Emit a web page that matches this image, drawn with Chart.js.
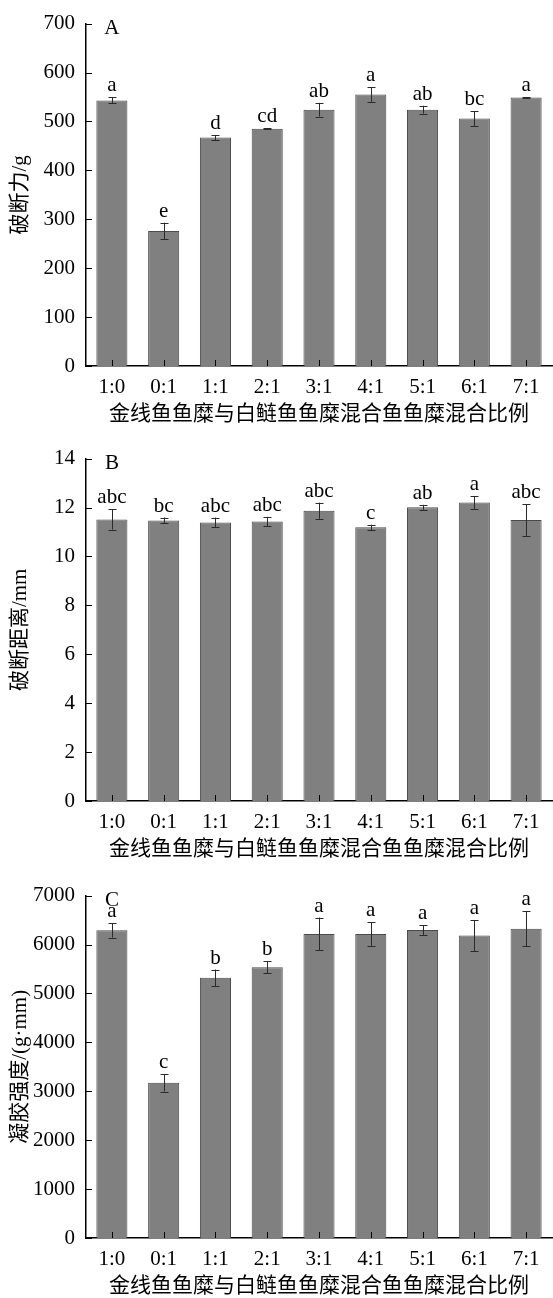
<!DOCTYPE HTML><html>
<head>
  <meta charset="utf-8">
  <title>鱼糜混合比例</title>
  <style>
  html, body {
    margin: 0;
    padding: 0;
    background: #fff;
    overflow: hidden;
  }
  body {
    width: 553px;
    height: 1298px;
    position: relative;
  }
  .panel {
    position: absolute;
    left: 0;
    width: 553px;
    height: 436px;
  }
  </style>
  <script src="https://cdn.jsdelivr.net/npm/chart.js"></script>
</head>
<body>
  <div class="panel" style="top:0px"><canvas id="chart-a" width="553" height="436"></canvas></div>
  <div class="panel" style="top:435px"><canvas id="chart-b" width="553" height="436"></canvas></div>
  <div class="panel" style="top:872px"><canvas id="chart-c" width="553" height="436"></canvas></div>
<script>
  var ratios = ['1:0', '0:1', '1:1', '2:1', '3:1', '4:1', '5:1', '6:1', '7:1'];
  var xTitle = '金线鱼鱼糜与白鲢鱼鱼糜混合鱼鱼糜混合比例';

  // A: 破断力
  var forceMean = [543, 276, 467, 485, 524, 555, 524, 506, 549];
  var forceSd   = [6, 17, 5, 1, 14, 15, 8, 15, 1];
  var forceSig  = ['a', 'e', 'd', 'cd', 'ab', 'a', 'ab', 'bc', 'a'];

  // B: 破断距离
  var distMean = [11.51, 11.47, 11.39, 11.43, 11.87, 11.19, 12.01, 12.20, 11.49];
  var distSd   = [0.41, 0.12, 0.20, 0.19, 0.33, 0.11, 0.10, 0.26, 0.65];
  var distSig  = ['abc', 'bc', 'abc', 'abc', 'abc', 'c', 'ab', 'a', 'abc'];

  // C: 凝胶强度
  var gelMean = [6290, 3175, 5321, 5535, 6215, 6215, 6296, 6182, 6323];
  var gelSd   = [148, 180, 168, 118, 337, 240, 98, 320, 354];
  var gelSig  = ['a', 'c', 'b', 'b', 'a', 'a', 'a', 'a', 'a'];

  var FONT = '"Liberation Serif", "Noto Sans CJK SC", serif';
  Chart.defaults.font.family = FONT;
  Chart.defaults.font.size = 21;
  Chart.defaults.color = '#000';

  // inward ticks, error bars, significance letters, panel letter
  var decor = {
    id: 'decor',
    afterDraw: function(chart, args, opts) {
      var ctx = chart.ctx;
      var area = chart.chartArea;
      var xs = chart.scales.x, ys = chart.scales.y;
      var meta = chart.getDatasetMeta(0);
      var vals = chart.data.datasets[0].data;
      ctx.save();

      ctx.strokeStyle = '#000';
      ctx.lineWidth = 1;
      ctx.beginPath();
      ys.ticks.forEach(function(t, i) {
        var py = Math.round(ys.getPixelForTick(i)) + 0.5;
        ctx.moveTo(area.left, py);
        ctx.lineTo(area.left + 6, py);
      });
      xs.ticks.forEach(function(t, i) {
        var px = Math.round(xs.getPixelForTick(i)) + 0.5;
        ctx.moveTo(px, area.bottom);
        ctx.lineTo(px, area.bottom - 6);
      });
      ctx.stroke();

      ctx.strokeStyle = '#2a2a2a';
      ctx.font = '21px ' + FONT;
      ctx.fillStyle = '#000';
      ctx.textAlign = 'center';
      ctx.textBaseline = 'alphabetic';
      meta.data.forEach(function(bar, i) {
        var v = vals[i], e = opts.errors[i];
        var yt = ys.getPixelForValue(v + e);
        var yb = ys.getPixelForValue(v - e);
        var cx = Math.round(bar.x) + 0.5;
        ctx.beginPath();
        ctx.moveTo(cx, yt); ctx.lineTo(cx, yb);
        ctx.moveTo(cx - 4, Math.round(yt) + 0.5); ctx.lineTo(cx + 4, Math.round(yt) + 0.5);
        ctx.moveTo(cx - 4, Math.round(yb) + 0.5); ctx.lineTo(cx + 4, Math.round(yb) + 0.5);
        ctx.stroke();
        ctx.fillText(opts.letters[i], bar.x, yt - 6);
      });

      ctx.fillText(opts.panel, xs.getPixelForTick(0), area.top + 10);
      ctx.restore();
    }
  };

  function makeChart(id, values, errors, letters, panel, yMax, yStep, yTitle) {
    return new Chart(document.getElementById(id), {
      type: 'bar',
      data: {
        labels: ratios,
        datasets: [{
          data: values,
          backgroundColor: '#808080',
          borderColor: '#4a4a4a',
          borderWidth: 1,
          categoryPercentage: 1.0,
          barPercentage: 0.6
        }]
      },
      plugins: [decor],
      options: {
        responsive: false,
        animation: false,
        events: [],
        layout: { padding: { top: 19, right: 1, left: 0, bottom: 0 } },
        plugins: {
          legend: { display: false },
          tooltip: { enabled: false },
          decor: { errors: errors, letters: letters, panel: panel }
        },
        scales: {
          x: {
            z: 1,
            grid: { display: false, drawTicks: false },
            border: { display: true, color: '#000', width: 1.5 },
            ticks: { padding: 9, maxRotation: 0, autoSkip: false },
            title: { display: true, text: xTitle, padding: { top: 0, bottom: 9 } },
            afterFit: function(scale) { scale.height = 70; }
          },
          y: {
            z: 1,
            min: 0,
            max: yMax,
            grid: { display: false, drawTicks: false },
            border: { display: true, color: '#000', width: 1.5 },
            ticks: {
              stepSize: yStep,
              padding: 11,
              callback: function(v) { return String(v); }
            },
            title: { display: true, text: yTitle, padding: { top: 8, bottom: 0 } },
            afterFit: function(scale) { scale.width = 86; }
          }
        }
      }
    });
  }

  makeChart('chart-a', forceMean, forceSd, forceSig, 'A', 700, 100, '破断力/g');
  makeChart('chart-b', distMean, distSd, distSig, 'B', 14, 2, '破断距离/mm');
  makeChart('chart-c', gelMean, gelSd, gelSig, 'C', 7000, 1000, '凝胶强度/(g·mm)');
</script>
</body>
</html>
